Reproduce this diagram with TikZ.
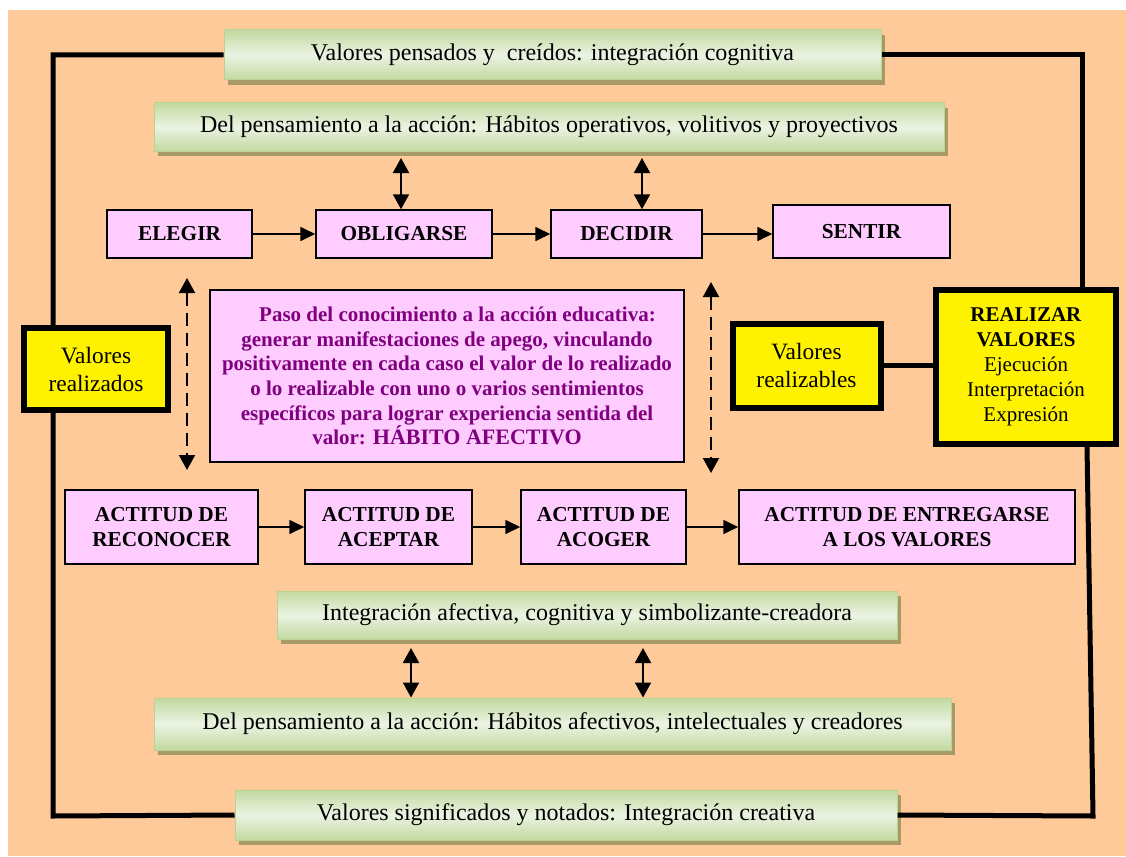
\documentclass[tikz,border=0pt]{standalone}
\usepackage{fontspec}
\setmainfont{Liberation Serif}
\usetikzlibrary{arrows.meta,shadows}
\definecolor{peach}{HTML}{FFCA99}
\definecolor{pinkbox}{HTML}{FFCCFF}
\definecolor{gdark}{HTML}{C3D9A0}
\definecolor{glight}{HTML}{EBF3E2}
\definecolor{gborder}{HTML}{B8D494}
\definecolor{gshadow}{HTML}{A89A66}
\definecolor{purpletxt}{HTML}{800080}
\tikzset{
  greenbox/.style={draw=gborder, line width=1pt, top color=gdark, bottom color=gdark, middle color=glight,
    general shadow={fill=gshadow, shadow xshift=4pt, shadow yshift=-5pt},
    font=\fontsize{24}{28}\selectfont, inner sep=0pt},
  pinkbox/.style={draw=black, line width=1.5pt, fill=pinkbox, align=center, inner sep=0pt,
    font=\fontsize{21.3}{25}\selectfont\bfseries},
  yellowbox/.style={draw=black, line width=6pt, fill=yellow, align=center, inner sep=0pt,
    font=\fontsize{23.4}{28}\selectfont},
  loopline/.style={line width=5pt, line join=miter},
  flow/.style={line width=1.7pt, -{Triangle[length=15pt,width=14pt]}},
  dbl/.style={line width=2pt, {Triangle[length=15pt,width=16pt]}-{Triangle[length=15pt,width=16pt]}},
  dashdbl/.style={line width=2pt, dash pattern=on 13pt off 7pt, {Triangle[length=15pt,width=16pt]}-{Triangle[length=15pt,width=16pt]}}
}
\begin{document}
\begin{tikzpicture}[x=1pt,y=-1pt]
\useasboundingbox (0,0) rectangle (1126,856);
\fill[white] (0,0) rectangle (1126,856);
\fill[peach] (8,10) rectangle (1126,856);

% green boxes
\node[greenbox, minimum width=657pt, minimum height=50pt] (g1) at (552.5,55) {Valores pensados y \ creídos: integración cognitiva};
\node[greenbox, minimum width=790pt, minimum height=48pt] (g2) at (549,127) {Del pensamiento a la acción: Hábitos operativos, volitivos y proyectivos};
\node[greenbox, minimum width=620pt, minimum height=48pt] (g3) at (587,615) {Integración afectiva, cognitiva y simbolizante-creadora};
\node[greenbox, minimum width=797pt, minimum height=52pt] (g4) at (552.5,724) {Del pensamiento a la acción: Hábitos afectivos, intelectuales y creadores};
\node[greenbox, minimum width=662pt, minimum height=50pt] (g5) at (566,815) {Valores significados y notados: Integración creativa};

% corner coordinates of loop
\coordinate (tl) at (53,55);
\coordinate (tr) at (1082,55);
\coordinate (bl) at (53,816);
\coordinate (br) at (1093,816);
\coordinate (rb) at (1087,0);

% yellow boxes
\node[yellowbox, minimum width=148pt, minimum height=84pt] (vrb) at (806.5,365.5) {Valores\\realizables};
\node[yellowbox, minimum width=180pt, minimum height=154pt, font=\fontsize{21}{25}\selectfont] (rv) at (1026,366.5) {\textbf{REALIZAR}\\\textbf{VALORES}\\Ejecución\\Interpretación\\Expresión};

% loop lines
\draw[loopline] (g1.west) -- (tl) -- (bl) -- (g5.west);
\draw[loopline] (g1.east) -- (tr) -- (rv.north -| tr);
\draw[loopline] (rv.south -| rb) -- (br) -- (g5.east);
\draw[loopline] (vrb.east) -- (rv.west |- vrb.east);

% box on the left line
\node[yellowbox, minimum width=144pt, minimum height=82pt] (vr) at (96,369) {Valores\\realizados};

% row 1
\node[pinkbox, minimum width=145pt, minimum height=48pt] (elegir) at (179.5,234) {ELEGIR};
\node[pinkbox, minimum width=176pt, minimum height=48pt] (oblig) at (404,234) {OBLIGARSE};
\node[pinkbox, minimum width=151pt, minimum height=48pt] (decidir) at (626.5,234) {DECIDIR};
\node[pinkbox, minimum width=177pt, minimum height=53pt] (sentir) at (861.5,231.5) {SENTIR};

\draw[flow] (elegir.east) -- (oblig.west);
\draw[flow] (oblig.east) -- (decidir.west);
\draw[flow] (decidir.east) -- (sentir.west |- decidir.east);

\coordinate (a1t) at (401,158);
\coordinate (a2t) at (642,158);
\draw[dbl] (a1t) -- (a1t |- oblig.north);
\draw[dbl] (a2t) -- (a2t |- decidir.north);

% center box
\node[pinkbox, minimum width=474pt, minimum height=172pt, text=purpletxt, font=\fontsize{21}{24.6}\selectfont\bfseries] (centro) at (447,376)
 {\hspace{1em}Paso del conocimiento a la acción educativa:\\generar manifestaciones de apego, vinculando\\positivamente en cada caso el valor de lo realizado\\o lo realizable con uno o varios sentimientos\\específicos para lograr experiencia sentida del\\valor: {\fontsize{22}{24.6}\selectfont HÁBITO AFECTIVO}};

% dashed double arrows
\coordinate (d1t) at (187,278);
\coordinate (d1b) at (187,470);
\coordinate (d2t) at (711,282);
\coordinate (d2b) at (711,473);
\draw[dashdbl] (d1t) -- (d1b);
\draw[dashdbl] (d2t) -- (d2b);

% row 2
\node[pinkbox, minimum width=193pt, minimum height=74pt] (recon) at (161.5,527) {ACTITUD DE\\RECONOCER};
\node[pinkbox, minimum width=167pt, minimum height=74pt] (acept) at (388.5,527) {ACTITUD DE\\ACEPTAR};
\node[pinkbox, minimum width=165pt, minimum height=74pt] (acoger) at (603.5,527) {ACTITUD DE\\ACOGER};
\node[pinkbox, minimum width=336pt, minimum height=74pt] (entreg) at (907,527) {ACTITUD DE ENTREGARSE\\A LOS VALORES};

\draw[flow] (recon.east) -- (acept.west);
\draw[flow] (acept.east) -- (acoger.west);
\draw[flow] (acoger.east) -- (entreg.west);

% lower double arrows
\coordinate (b1) at (411,648);
\coordinate (b2) at (643,648);
\draw[dbl] (b1) -- (b1 |- g4.north);
\draw[dbl] (b2) -- (b2 |- g4.north);
\end{tikzpicture}
\end{document}
